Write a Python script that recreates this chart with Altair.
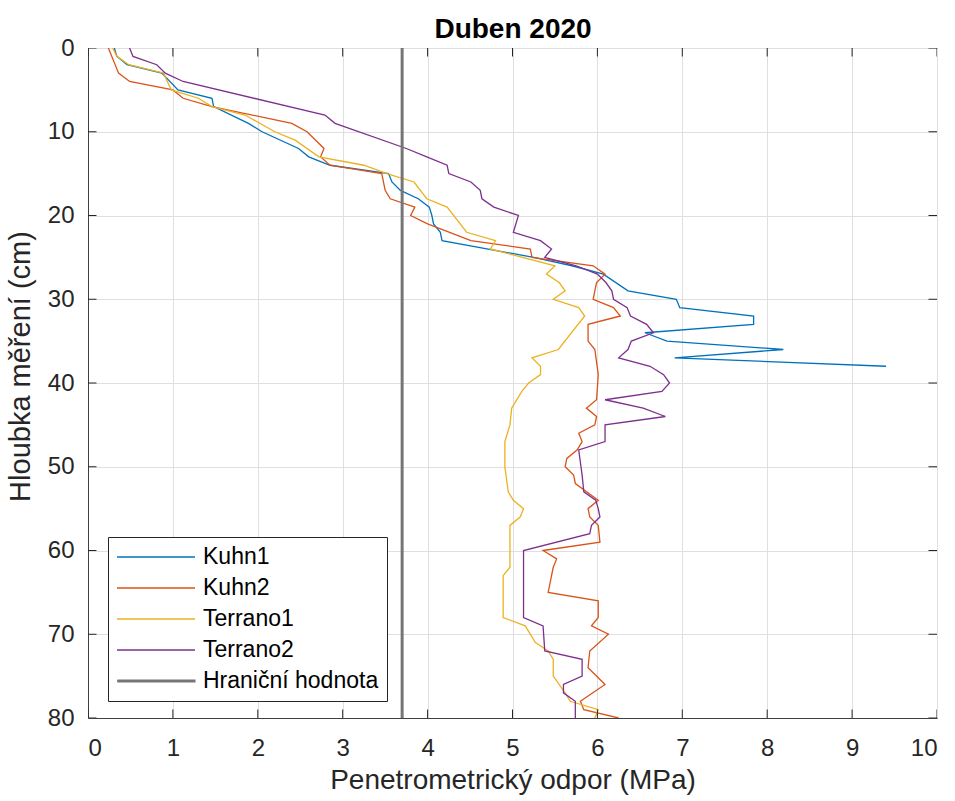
import altair as alt
import pandas as pd

# ---- data ----
kuhn1_depth = [0, 1, 2, 3, 5, 6, 7, 9, 10, 12, 13, 14, 15, 16, 17, 18, 19, 20, 21, 22, 23,
               25, 26, 27, 29, 30, 31, 32, 33, 34, 35, 36, 37, 38]
kuhn1_mpa = [0.31, 0.34, 0.46, 0.87, 1.06, 1.46, 1.48, 1.89, 2.05, 2.48, 2.60, 2.85, 3.54, 3.58,
             3.68, 3.89, 4.02, 4.05, 4.07, 4.15, 4.17, 5.25, 5.70, 6.07, 6.36, 6.93, 6.97, 7.84,
             7.84, 6.56, 6.82, 8.19, 6.91, 9.40]

kuhn2_depth = [0, 3, 4, 5, 6, 7, 9, 10, 12, 13, 14, 15, 17, 18, 19, 20, 21, 23, 24, 25, 26, 27,
               28, 29, 30, 31, 32, 33, 35, 36, 39, 42, 43, 44, 45, 46, 47, 48, 49, 50, 51, 52,
               54, 55, 56, 57, 59, 60, 61, 62, 63, 65, 66, 68, 69, 70, 72, 74, 76, 78, 79, 80]
kuhn2_mpa = [0.24, 0.36, 0.49, 1.00, 1.12, 1.46, 2.40, 2.58, 2.78, 2.74, 2.85, 3.46, 3.50, 3.56,
             3.85, 3.80, 4.00, 4.51, 5.21, 5.23, 5.95, 6.09, 5.99, 5.97, 5.95, 6.19, 6.27, 5.89,
             5.89, 5.97, 6.01, 5.99, 5.87, 5.99, 5.97, 5.78, 5.82, 5.76, 5.64, 5.62, 5.72, 5.74,
             6.01, 5.89, 5.91, 6.01, 6.03, 5.36, 5.52, 5.48, 5.46, 5.42, 6.01, 6.01, 5.93, 6.13,
             5.91, 5.89, 6.09, 5.80, 5.84, 6.25]

terrano1_depth = [0, 1, 2, 3, 5, 6, 7, 8, 10, 11, 13, 14, 15, 16, 18, 19, 22, 23, 24, 26, 27,
                  28, 29, 30, 31, 32, 36, 37, 38, 39, 40, 41, 43, 45, 47, 50, 53, 54, 55, 56, 57,
                  62, 63, 68, 69, 71, 72, 73, 75, 77, 78, 79, 80]
terrano1_mpa = [0.29, 0.34, 0.48, 0.89, 0.98, 1.30, 1.46, 1.85, 2.20, 2.44, 2.72, 3.25, 3.52,
                3.84, 3.99, 4.23, 4.46, 4.80, 4.74, 5.50, 5.40, 5.55, 5.62, 5.48, 5.78, 5.85,
                5.54, 5.23, 5.33, 5.33, 5.19, 5.11, 4.99, 4.97, 4.91, 4.91, 4.95, 5.01, 5.13,
                5.09, 4.97, 4.97, 4.89, 4.89, 5.15, 5.27, 5.42, 5.48, 5.48, 5.62, 5.68, 6.01,
                5.97]

terrano2_depth = [0, 1, 2, 3, 4, 8, 9, 12, 13, 14, 15, 16, 17, 18, 19, 20, 22, 23, 24, 25, 26,
                  27, 28, 29, 30, 31, 32, 33, 34, 35, 36, 37, 38, 39, 40, 41, 42, 43, 44, 45, 47,
                  48, 51, 53, 54, 55, 56, 57, 58, 60, 68, 69, 72, 73, 75, 76, 77, 78, 80]
terrano2_mpa = [0.49, 0.53, 0.81, 0.91, 1.12, 2.79, 2.91, 3.75, 3.99, 4.23, 4.25, 4.51, 4.62,
                4.64, 4.78, 5.07, 5.01, 5.33, 5.46, 5.38, 5.75, 6.00, 6.10, 6.17, 6.19, 6.35,
                6.39, 6.58, 6.66, 6.40, 6.36, 6.25, 6.62, 6.78, 6.85, 6.76, 6.09, 6.54, 6.80,
                6.09, 6.09, 5.78, 5.82, 5.84, 5.98, 6.01, 6.03, 5.93, 5.91, 5.13, 5.13, 5.36,
                5.38, 5.82, 5.82, 5.60, 5.60, 5.74, 5.74]

threshold_name = "Hraniční hodnota"
threshold_mpa = [3.7]
threshold_color = "#767676"

names = ["Kuhn1", "Kuhn2", "Terrano1", "Terrano2", threshold_name]
colors = ["#0072BD", "#D95319", "#EDB120", "#7E2F8E", threshold_color]

x_ticks = list(range(0, 11))
y_ticks = list(range(0, 81, 10))
x_limits = [0, 10]
y_limits = [0, 80]

series = [
    ("Kuhn1", kuhn1_depth, kuhn1_mpa),
    ("Kuhn2", kuhn2_depth, kuhn2_mpa),
    ("Terrano1", terrano1_depth, terrano1_mpa),
    ("Terrano2", terrano2_depth, terrano2_mpa),
]
rows = []
for name, d, v in series:
    for dd, vv in zip(d, v):
        rows.append({"serie": name, "hloubka": dd, "odpor": vv})
df = pd.DataFrame(rows)
df_thr = pd.DataFrame({"serie": [threshold_name] * len(threshold_mpa),
                       "hranice": [threshold_name] * len(threshold_mpa),
                       "odpor": threshold_mpa})

# tick marks on all four sides of the box (MATLAB style, pointing inward)
df_xt = pd.DataFrame([{"odpor": v, "hloubka": lim} for v in x_ticks for lim in y_limits])
df_yt = pd.DataFrame([{"odpor": lim, "hloubka": v} for v in y_ticks for lim in x_limits])

FONT = "Liberation Sans, Arial, Helvetica, sans-serif"

color_enc = alt.Color("serie:N", scale=alt.Scale(domain=names, range=colors), sort=names,
                      legend=alt.Legend(title=None, legendY=489))
x_scale = alt.Scale(domain=x_limits, nice=False, zero=False)
y_scale = alt.Scale(domain=y_limits, nice=False, zero=False, reverse=True)

y_enc = alt.Y("hloubka:Q", scale=y_scale,
              axis=alt.Axis(values=y_ticks, title="Hloubka měření (cm)", format="d",
                            labelPadding=14, titleBaseline="alphabetic", titleAngle=270,
                            titleFontSize=29, titleX=-59, titleY=318))

lines = alt.Chart(df).mark_line(clip=True, strokeWidth=1.3).encode(
    x=alt.X("odpor:Q", scale=x_scale,
            axis=alt.Axis(values=x_ticks, title="Penetrometrický odpor (MPa)",
                          format="d", labelPadding=18, titleBaseline="alphabetic",
                          titleY=70)),
    y=y_enc,
    color=color_enc,
    order=alt.Order("hloubka:Q"),
)

# threshold rule; its (top) axis carries the chart heading.
# The opacity legend only redraws the thick grey sample over the 5th legend row.
rule = alt.Chart(df_thr).mark_rule(strokeWidth=3).encode(
    x=alt.X("odpor:Q", scale=x_scale,
            axis=alt.Axis(orient="top", title="Duben 2020", labels=False, ticks=False,
                          domain=False, grid=False, titleFontWeight="bold",
                          titleFontSize=28, titleColor="#000000",
                          titleBaseline="alphabetic", titleY=-11, titleX=424.5)),
    color=color_enc,
    opacity=alt.Opacity("hranice:N", scale=alt.Scale(domain=[threshold_name], range=[1]),
                        legend=alt.Legend(title=None, legendY=613, symbolStrokeWidth=3,
                                          symbolStrokeColor=threshold_color,
                                          symbolOpacity=1,
                                          strokeColor="transparent",
                                          fillColor="transparent", labelOpacity=0)),
)

xticks = alt.Chart(df_xt).mark_point(clip=True, shape="M0,-1L0,1", size=289, strokeWidth=1,
                                     opacity=1, color="#262626").encode(
    x=alt.X("odpor:Q", scale=x_scale, axis=None),
    y=y_enc,
)
yticks = alt.Chart(df_yt).mark_point(clip=True, shape="M-1,0L1,0", size=289, strokeWidth=1,
                                     opacity=1, color="#262626").encode(
    x=alt.X("odpor:Q", scale=x_scale, axis=None),
    y=y_enc,
)

chart = alt.layer(lines, rule, xticks, yticks).resolve_axis(x="independent").properties(
    width=849,
    height=670,
    autosize=alt.AutoSizeParams(type="none"),
    padding={"left": 88, "top": 48, "right": 18, "bottom": 83},
).configure_view(
    stroke="#404040", strokeWidth=1
).configure_axis(
    labelFont=FONT, titleFont=FONT, labelFontSize=24, titleFontSize=28,
    labelColor="#262626", titleColor="#262626", titleFontWeight="normal",
    domainColor="#404040", domainWidth=1, ticks=False,
    gridColor="#dfdfdf", gridWidth=1, grid=True,
).configure_legend(
    orient="none", legendX=20,
    labelFont=FONT, labelFontSize=23, labelColor="#000000",
    symbolType="stroke", symbolSize=6084, symbolStrokeWidth=1.3,
    clipHeight=24, rowPadding=7, labelOffset=7, padding=8,
    strokeColor="#262626", fillColor="#ffffff", labelLimit=400,
)

chart.save("out.html", embed_options={"renderer": "svg", "actions": False})
